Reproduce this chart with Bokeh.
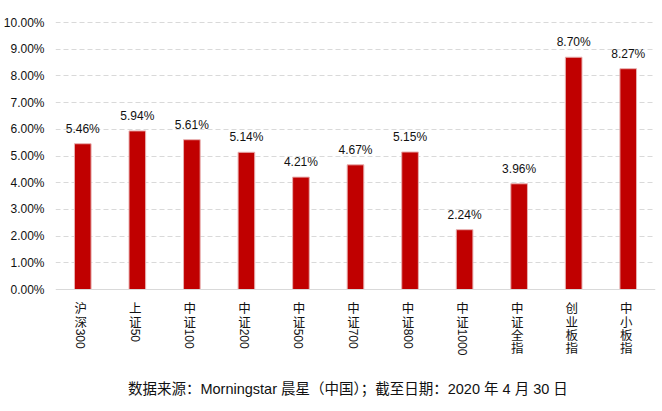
import math
from bokeh.plotting import figure
from bokeh.models import ColumnDataSource, FactorRange, Range1d, FixedTicker, PrintfTickFormatter, Span
from bokeh.core.properties import value
from bokeh.embed import file_html
from bokeh.resources import INLINE

# ---- data ----
categories = ["沪深300", "上证50", "中证100", "中证200", "中证500", "中证700",
              "中证800", "中证1000", "中证全指", "创业板指", "中小板指"]
returns = [5.46, 5.94, 5.61, 5.14, 4.21, 4.67, 5.15, 2.24, 3.96, 8.70, 8.27]
y_ticks = [0, 1, 2, 3, 4, 5, 6, 7, 8, 9, 10]
source_note = "数据来源：Morningstar 晨星（中国）；截至日期：2020 年 4 月 30 日"

LATIN = "Liberation Sans"
CJK = "Noto Sans CJK SC"
MIXED = "Liberation Sans, Noto Sans CJK SC"

p = figure(width=662, height=411,
           x_range=FactorRange(*categories, range_padding=0, factor_padding=0),
           y_range=Range1d(-4.569, 10.824),
           output_backend="svg", toolbar_location=None,
           min_border_left=53, min_border_right=7, min_border_top=0, min_border_bottom=0)
p.outline_line_color = None
p.background_fill_color = "white"
p.border_fill_color = "white"

# axes
p.xaxis.visible = False
p.xgrid.grid_line_color = None
yax = p.yaxis[0]
yax.ticker = FixedTicker(ticks=y_ticks)
yax.formatter = PrintfTickFormatter(format="%.2f%%")
yax.bounds = (0, 10)
yax.axis_line_color = None
yax.major_tick_line_color = None
yax.minor_tick_line_color = None
yax.major_tick_out = 0
yax.major_tick_in = 0
yax.major_label_standoff = 11
yax.major_label_text_font = LATIN
yax.major_label_text_font_size = "12px"
yax.major_label_text_color = "#111111"

p.ygrid.ticker = FixedTicker(ticks=y_ticks[1:])
p.ygrid.grid_line_color = "#D9D9D9"
p.ygrid.grid_line_dash = "5 3"
p.ygrid.grid_line_width = 1

p.add_layout(Span(location=0, dimension="width", line_color="#D9D9D9", line_width=1))

# bars
src = ColumnDataSource(dict(cat=categories, val=returns,
                            lbl=["%.2f%%" % v for v in returns]))
p.vbar(x="cat", top="val", width=0.305, source=src,
       fill_color="#C00000", line_color="#E8B0B0", line_width=1)

p.text(x="cat", y="val", text="lbl", source=src, y_offset=-8,
       text_align="center", text_baseline="bottom",
       text_font=value(LATIN), text_font_size="12px", text_color="#111111")

# category labels: CJK characters stacked upright, digits rotated
cx, cy, ct = [], [], []
rx, ry, rt = [], [], []
y0 = -0.686
step = 0.5
for cat in categories:
    pos = 0
    run = ""
    for ch in cat:
        if ord(ch) < 128:
            run += ch
        else:
            cx.append(cat); cy.append(y0 - step * pos); ct.append(ch)
            pos += 1
    if run:
        rx.append(cat); ry.append(y0 + step / 2 - step * pos - 0.03); rt.append(run)

p.text(x=cx, y=cy, text=ct, x_offset=-2, text_align="center", text_baseline="middle",
       text_font=value(CJK), text_font_size="12.5px", text_color="#111111")
p.text(x=rx, y=ry, text=rt, x_offset=-2, angle=-math.pi / 2, text_align="left", text_baseline="middle",
       text_font=value(LATIN), text_font_size="12px", text_color="#111111")

# source note
p.text(x=[categories[5]], y=[-3.71], text=[source_note], x_offset=-4,
       text_align="center", text_baseline="middle",
       text_font=value(MIXED), text_font_size="14.5px", text_color="#111111")

open("out.html", "w").write(file_html(p, INLINE))
